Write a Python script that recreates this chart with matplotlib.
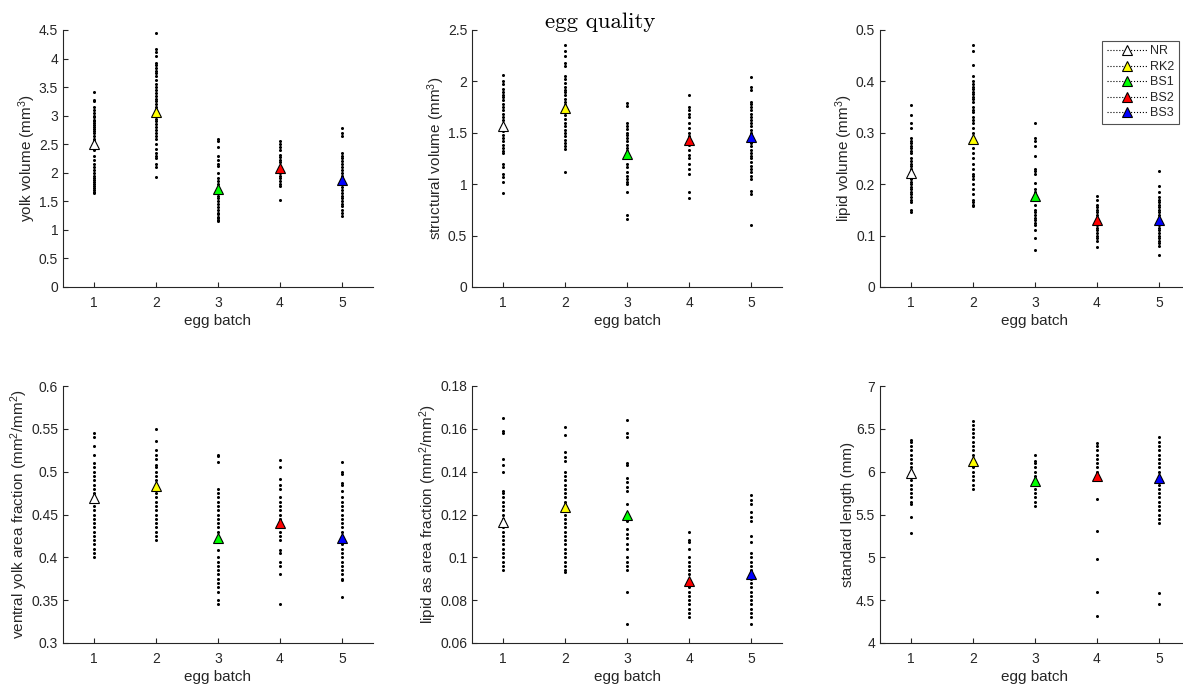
import matplotlib
matplotlib.use("Agg")
import matplotlib.pyplot as plt
from matplotlib.lines import Line2D
from matplotlib.ticker import FormatStrFormatter

plt.rcParams['font.family'] = ['Liberation Sans', 'DejaVu Sans']
plt.rcParams['mathtext.fontset'] = 'custom'
plt.rcParams['mathtext.rm'] = 'Liberation Sans'
plt.rcParams['mathtext.it'] = 'Liberation Sans:italic'

batches = [1, 2, 3, 4, 5]
batch_names = ["NR", "RK2", "BS1", "BS2", "BS3"]
batch_colors = ["white", "yellow", "#00ff00", "red", "blue"]

# ---- panel 1: yolk volume ----
yolk_volume = [
    [3.42, 3.27, 3.25, 3.15, 3.1, 3.05, 3.0, 2.97, 2.93, 2.9, 2.87, 2.83, 2.8, 2.77, 2.73, 2.7, 2.65, 2.6,
     2.55, 2.5, 2.45, 2.4, 2.3, 2.22, 2.15, 2.1, 2.05, 2.0, 1.95, 1.9, 1.87, 1.83, 1.8, 1.77, 1.73, 1.7, 1.67, 1.64],
    [4.44, 4.17, 4.12, 4.05, 3.92, 3.88, 3.83, 3.78, 3.75, 3.7, 3.62, 3.55, 3.5, 3.45, 3.4, 3.35, 3.3, 3.25,
     3.2, 3.15, 3.1, 3.0, 2.95, 2.9, 2.85, 2.8, 2.75, 2.7, 2.65, 2.6, 2.5, 2.42, 2.35, 2.3, 2.25, 2.15, 2.1, 1.92],
    [2.6, 2.55, 2.45, 2.3, 2.22, 2.15, 2.12, 2.0, 1.9, 1.85, 1.8, 1.75, 1.7, 1.65, 1.6, 1.55, 1.5, 1.45, 1.4,
     1.35, 1.3, 1.27, 1.23, 1.2, 1.17, 1.15],
    [2.55, 2.5, 2.45, 2.4, 2.32, 2.28, 2.22, 2.18, 2.12, 2.08, 2.05, 2.0, 1.95, 1.9, 1.85, 1.8, 1.76, 1.52],
    [2.78, 2.7, 2.65, 2.35, 2.3, 2.25, 2.2, 2.15, 2.1, 2.05, 2.0, 1.95, 1.9, 1.85, 1.8, 1.75, 1.7, 1.65, 1.6,
     1.55, 1.5, 1.45, 1.42, 1.35, 1.3, 1.25],
]
yolk_volume_mean = [2.50, 3.06, 1.72, 2.09, 1.87]

# ---- panel 2: structural volume ----
structural_volume = [
    [2.06, 2.0, 1.97, 1.93, 1.9, 1.87, 1.85, 1.82, 1.78, 1.75, 1.72, 1.68, 1.65, 1.62, 1.58, 1.55, 1.52, 1.48,
     1.45, 1.42, 1.38, 1.35, 1.32, 1.3, 1.2, 1.17, 1.1, 1.07, 1.02, 0.91],
    [2.35, 2.3, 2.25, 2.18, 2.15, 2.05, 2.02, 1.98, 1.95, 1.92, 1.9, 1.87, 1.83, 1.8, 1.77, 1.73, 1.7, 1.67,
     1.63, 1.6, 1.57, 1.53, 1.5, 1.47, 1.43, 1.4, 1.37, 1.34, 1.12],
    [1.79, 1.76, 1.6, 1.57, 1.54, 1.5, 1.48, 1.45, 1.42, 1.38, 1.35, 1.32, 1.28, 1.25, 1.2, 1.17, 1.12, 1.08,
     1.05, 1.02, 1.0, 0.92, 0.7, 0.66],
    [1.87, 1.75, 1.72, 1.68, 1.65, 1.6, 1.55, 1.5, 1.47, 1.45, 1.42, 1.38, 1.33, 1.28, 1.25, 1.2, 1.15, 1.1,
     0.92, 0.87],
    [2.04, 1.95, 1.92, 1.8, 1.78, 1.75, 1.72, 1.68, 1.65, 1.62, 1.6, 1.57, 1.53, 1.5, 1.47, 1.43, 1.4, 1.37,
     1.33, 1.3, 1.27, 1.25, 1.22, 1.18, 1.15, 1.12, 1.08, 1.05, 0.93, 0.9, 0.6],
]
structural_volume_mean = [1.57, 1.74, 1.29, 1.43, 1.46]

# ---- panel 3: lipid volume ----
lipid_volume = [
    [0.355, 0.335, 0.32, 0.31, 0.29, 0.285, 0.28, 0.275, 0.27, 0.265, 0.26, 0.25, 0.245, 0.24, 0.235, 0.23,
     0.225, 0.22, 0.215, 0.21, 0.205, 0.2, 0.195, 0.19, 0.185, 0.18, 0.175, 0.17, 0.165, 0.15, 0.145],
    [0.47, 0.46, 0.432, 0.41, 0.4, 0.395, 0.39, 0.385, 0.38, 0.375, 0.37, 0.365, 0.36, 0.35, 0.345, 0.34,
     0.33, 0.325, 0.32, 0.31, 0.3, 0.29, 0.28, 0.27, 0.26, 0.25, 0.24, 0.23, 0.22, 0.215, 0.21, 0.2, 0.19,
     0.18, 0.17, 0.165, 0.16, 0.158],
    [0.32, 0.29, 0.285, 0.275, 0.255, 0.23, 0.225, 0.22, 0.203, 0.19, 0.185, 0.18, 0.17, 0.16, 0.15, 0.145,
     0.14, 0.135, 0.13, 0.125, 0.12, 0.11, 0.095, 0.072],
    [0.178, 0.17, 0.16, 0.155, 0.15, 0.145, 0.14, 0.135, 0.13, 0.125, 0.12, 0.115, 0.11, 0.105, 0.1, 0.095,
     0.09, 0.078],
    [0.226, 0.196, 0.185, 0.175, 0.17, 0.165, 0.16, 0.155, 0.15, 0.145, 0.14, 0.135, 0.13, 0.125, 0.12, 0.115,
     0.11, 0.105, 0.1, 0.095, 0.09, 0.085, 0.08, 0.063],
]
lipid_volume_mean = [0.222, 0.287, 0.178, 0.130, 0.130]

# ---- panel 4: ventral yolk area fraction ----
yolk_area_fraction = [
    [0.545, 0.54, 0.53, 0.52, 0.51, 0.505, 0.5, 0.495, 0.49, 0.485, 0.48, 0.475, 0.47, 0.465, 0.46, 0.455,
     0.45, 0.445, 0.44, 0.435, 0.43, 0.425, 0.42, 0.415, 0.41, 0.405, 0.4],
    [0.55, 0.536, 0.525, 0.52, 0.515, 0.508, 0.505, 0.5, 0.495, 0.49, 0.485, 0.48, 0.475, 0.47, 0.465, 0.46,
     0.455, 0.45, 0.445, 0.44, 0.435, 0.43, 0.425, 0.42],
    [0.52, 0.518, 0.511, 0.48, 0.475, 0.47, 0.465, 0.46, 0.455, 0.45, 0.445, 0.44, 0.435, 0.43, 0.42, 0.408,
     0.4, 0.395, 0.39, 0.385, 0.38, 0.375, 0.37, 0.365, 0.36, 0.35, 0.345],
    [0.514, 0.505, 0.492, 0.485, 0.48, 0.47, 0.465, 0.46, 0.455, 0.45, 0.445, 0.44, 0.435, 0.43, 0.425, 0.42,
     0.408, 0.405, 0.395, 0.39, 0.38, 0.345],
    [0.511, 0.5, 0.497, 0.487, 0.485, 0.477, 0.47, 0.465, 0.46, 0.455, 0.45, 0.445, 0.44, 0.435, 0.43, 0.425,
     0.42, 0.415, 0.41, 0.405, 0.4, 0.395, 0.39, 0.385, 0.38, 0.375, 0.373, 0.354],
]
yolk_area_fraction_mean = [0.469, 0.483, 0.423, 0.440, 0.423]

# ---- panel 5: lipid as area fraction ----
lipid_area_fraction = [
    [0.165, 0.159, 0.158, 0.146, 0.143, 0.14, 0.131, 0.13, 0.128, 0.126, 0.124, 0.122, 0.12, 0.118, 0.116,
     0.114, 0.112, 0.11, 0.108, 0.106, 0.104, 0.102, 0.1, 0.098, 0.096, 0.094],
    [0.161, 0.157, 0.149, 0.147, 0.145, 0.14, 0.138, 0.136, 0.134, 0.132, 0.13, 0.128, 0.126, 0.124, 0.122,
     0.12, 0.118, 0.116, 0.114, 0.112, 0.11, 0.108, 0.106, 0.104, 0.102, 0.1, 0.098, 0.096, 0.094, 0.093],
    [0.164, 0.158, 0.156, 0.144, 0.143, 0.137, 0.135, 0.133, 0.131, 0.125, 0.12, 0.117, 0.113, 0.111, 0.109,
     0.106, 0.104, 0.1, 0.098, 0.096, 0.094, 0.084, 0.069],
    [0.112, 0.108, 0.107, 0.104, 0.1, 0.098, 0.096, 0.094, 0.092, 0.09, 0.088, 0.086, 0.084, 0.082, 0.08,
     0.078, 0.076, 0.074, 0.072],
    [0.129, 0.127, 0.125, 0.121, 0.119, 0.117, 0.11, 0.107, 0.102, 0.1, 0.098, 0.096, 0.094, 0.092, 0.09,
     0.088, 0.086, 0.084, 0.082, 0.08, 0.078, 0.076, 0.074, 0.072, 0.069],
]
lipid_area_fraction_mean = [0.1166, 0.1233, 0.1196, 0.089, 0.092]

# ---- panel 6: standard length ----
standard_length = [
    [6.37, 6.35, 6.3, 6.25, 6.2, 6.15, 6.1, 6.05, 6.0, 5.95, 5.9, 5.85, 5.8, 5.75, 5.7, 5.65, 5.62, 5.47, 5.28],
    [6.59, 6.55, 6.5, 6.45, 6.4, 6.35, 6.3, 6.25, 6.2, 6.15, 6.1, 6.05, 6.0, 5.95, 5.9, 5.85, 5.8],
    [6.2, 6.12, 6.1, 6.05, 6.0, 5.95, 5.9, 5.85, 5.8, 5.75, 5.7, 5.65, 5.6],
    [6.34, 6.3, 6.25, 6.2, 6.15, 6.1, 6.05, 6.0, 5.95, 5.9, 5.68, 5.31, 4.98, 4.59, 4.32],
    [6.4, 6.35, 6.3, 6.25, 6.2, 6.15, 6.1, 6.05, 6.0, 5.95, 5.9, 5.85, 5.8, 5.75, 5.7, 5.65, 5.6, 5.55, 5.5,
     5.45, 5.4, 4.58, 4.45],
]
standard_length_mean = [5.98, 6.12, 5.89, 5.95, 5.93]

panels = [
    (yolk_volume, yolk_volume_mean, "yolk volume (mm$^3$)", (0, 4.5), [0, 0.5, 1, 1.5, 2, 2.5, 3, 3.5, 4, 4.5]),
    (structural_volume, structural_volume_mean, "structural volume (mm$^3$)", (0, 2.5), [0, 0.5, 1, 1.5, 2, 2.5]),
    (lipid_volume, lipid_volume_mean, "lipid volume (mm$^3$)", (0, 0.5), [0, 0.1, 0.2, 0.3, 0.4, 0.5]),
    (yolk_area_fraction, yolk_area_fraction_mean, "ventral yolk area fraction (mm$^2$/mm$^2$)", (0.3, 0.6),
     [0.3, 0.35, 0.4, 0.45, 0.5, 0.55, 0.6]),
    (lipid_area_fraction, lipid_area_fraction_mean, "lipid as area fraction (mm$^2$/mm$^2$)", (0.06, 0.18),
     [0.06, 0.08, 0.1, 0.12, 0.14, 0.16, 0.18]),
    (standard_length, standard_length_mean, "standard length (mm)", (4, 7), [4, 4.5, 5, 5.5, 6, 6.5, 7]),
]

W, H = 1183, 684
fig = plt.figure(figsize=(W / 100, H / 100), dpi=100)
col_left = [63, 472, 880]
row_top = [30, 386]
ax_w, ax_h = 310, 257

dark = "#262626"
axes = []
for i, (data, means, ylabel, ylim, yticks) in enumerate(panels):
    r, c = divmod(i, 3)
    ax = fig.add_axes([col_left[c] / W, 1 - (row_top[r] + ax_h) / H, ax_w / W, ax_h / H])
    for b, vals in zip(batches, data):
        ax.plot([b] * len(vals), vals, linestyle='none', marker='o', markersize=2.2,
                color='black', markeredgewidth=0, zorder=2)
    for b, m, col in zip(batches, means, batch_colors):
        ax.plot([b], [m], linestyle=':', marker='^', markersize=7.5, markerfacecolor=col,
                markeredgecolor='black', markeredgewidth=0.8, color='black', zorder=3)
    ax.set_xlim(0.5, 5.5)
    ax.set_ylim(*ylim)
    ax.set_xticks(batches)
    ax.set_yticks(yticks)
    ax.yaxis.set_major_formatter(FormatStrFormatter('%g'))
    for s in ['top', 'right']:
        ax.spines[s].set_visible(False)
    for s in ['left', 'bottom']:
        ax.spines[s].set_color(dark)
        ax.spines[s].set_linewidth(0.8)
    ax.tick_params(direction='in', length=3.5, width=0.8, colors=dark, labelsize=10, labelcolor=dark)
    ax.tick_params(axis='x', pad=6.5)
    ax.set_xlabel("egg batch", fontsize=11, color=dark, labelpad=3)
    ax.set_ylabel(ylabel, fontsize=11, color=dark, labelpad=0.5)
    axes.append(ax)

handles = [Line2D([0], [0], linestyle=':', color='black', linewidth=0.8, marker='^', markersize=7.5,
                  markerfacecolor=col, markeredgecolor='black', markeredgewidth=0.8)
           for col in batch_colors]
leg = fig.legend(handles, batch_names, loc='upper right', bbox_to_anchor=(1179 / W, 1 - 41 / H),
                 fontsize=9, frameon=True, fancybox=False, handlelength=3.2, handletextpad=0.3,
                 borderpad=0.35, labelspacing=0.28, borderaxespad=0)
leg.get_frame().set_edgecolor(dark)
leg.get_frame().set_linewidth(0.8)
for t in leg.get_texts():
    t.set_color(dark)

fig.text(600 / W, 1 - 28 / H, "egg quality", family='cmr10', fontsize=16.5, ha='center', va='baseline')

fig.savefig("out.png", dpi=100)
